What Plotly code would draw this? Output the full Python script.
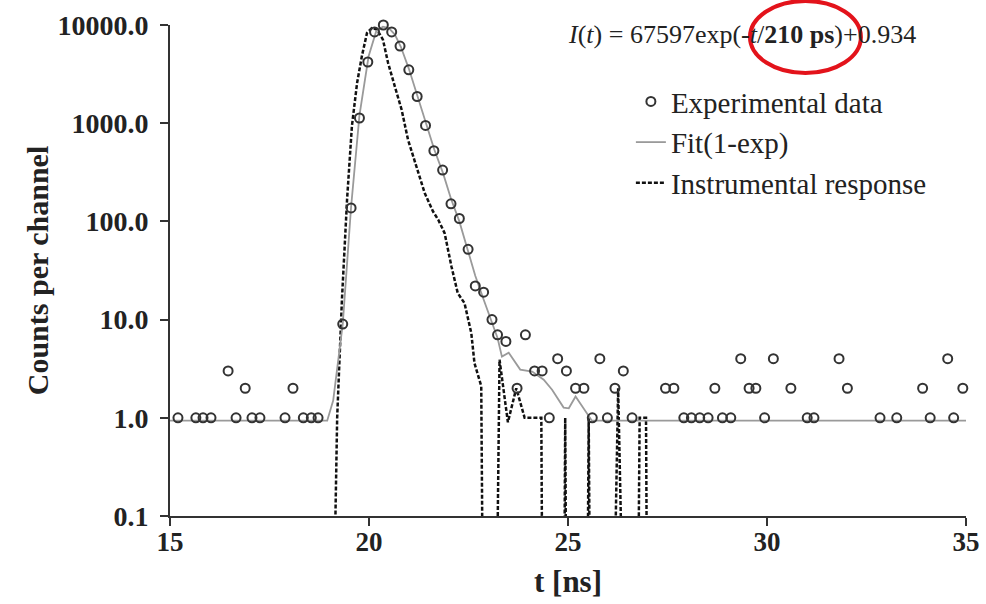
import plotly.graph_objects as go

# ---------------- data ----------------
exp_t = [15.20, 15.65, 15.83, 16.03, 16.46, 16.66, 16.89, 17.06, 17.26, 17.89,
         18.09, 18.35, 18.55, 18.72, 19.34, 19.55, 19.76, 19.97, 20.14, 20.36,
         20.57, 20.78, 21.00, 21.21, 21.42, 21.63, 21.85, 22.06, 22.27, 22.49,
         22.67, 22.88, 23.09, 23.23, 23.44, 23.72, 23.93, 24.16, 24.35, 24.53,
         24.74, 24.96, 25.19, 25.40, 25.61, 25.80, 25.99, 26.18, 26.39, 26.61,
         27.45, 27.66, 27.91, 28.10, 28.31, 28.52, 28.69, 28.88, 29.09, 29.34,
         29.55, 29.72, 29.94, 30.16, 30.60, 31.01, 31.18, 31.81, 32.02, 32.84,
         33.26, 33.91, 34.10, 34.54, 34.69, 34.92]
exp_counts = [1, 1, 1, 1, 3, 1, 2, 1, 1, 1,
              2, 1, 1, 1, 9, 137, 1130, 4200, 8500, 10000,
              8500, 6100, 3500, 1870, 950, 524, 333, 151, 107, 52,
              22, 19, 10, 7, 6, 2, 7, 3, 3, 1,
              4, 3, 2, 2, 1, 4, 1, 2, 3, 1,
              2, 2, 1, 1, 1, 1, 2, 1, 1, 4,
              2, 2, 1, 4, 2, 1, 1, 4, 2, 1,
              1, 2, 1, 4, 1, 2]

fit_t = [15.0, 18.95, 19.10, 19.34, 19.55, 19.76, 19.99, 20.18, 20.35, 20.50,
         20.65, 20.80, 21.00, 21.21, 21.43, 21.64, 21.86, 22.06, 22.27, 22.49,
         22.67, 22.88, 23.09, 23.23, 23.34, 23.51, 23.80, 24.10, 24.39, 24.60,
         24.89, 25.02, 25.19, 25.52, 25.60, 35.0]
fit_counts = [0.934, 0.934, 1.5, 9, 140, 1200, 4800, 8600, 9600, 9300,
              8000, 6000, 3600, 1900, 1000, 540, 310, 170, 100, 50,
              28, 16, 9.5, 6.5, 4.2, 4.6, 3.1, 2.96, 2.44, 1.93,
              1.27, 1.25, 1.65, 1.02, 0.934, 0.934]

irf_t = [19.07, 19.20, 19.32, 19.45, 19.57, 19.70, 19.82, 19.95, 20.07, 20.20,
         20.35, 20.48, 20.65, 20.82, 20.98, 21.19, 21.40, 21.61, 21.74, 21.90,
         22.07, 22.23, 22.40, 22.57, 22.65, 22.82, 22.88,
         23.18, 23.28, 23.49, 23.70, 23.91, 24.33, 24.37,
         24.89, 24.93, 24.97, 25.47, 25.52, 25.57,
         26.11, 26.26, 26.43, 26.74, 26.80, 26.96, 27.00, 35.0]
irf_counts = [0, 1, 16, 170, 930, 2560, 4800, 8300, 9300, 9000,
              7100, 4100, 2360, 1370, 680, 363, 194, 126, 104, 76,
              35, 18.6, 14.7, 7.3, 3.6, 2.1, 0,
              0, 3.9, 0.9, 2, 1, 1, 0,
              0, 1, 0, 0, 1, 0,
              0, 2, 0, 0, 1, 1, 0, 0]

y_tickvals = [0.1, 1, 10, 100, 1000, 10000]
x_tickvals = [15, 20, 25, 30, 35]

# zero counts cannot sit on a log axis: draw them below the visible range
irf_plot = [v if v > 0 else 1e-3 for v in irf_counts]

SERIF = "Liberation Serif, Times New Roman, serif"
TXT = "#222222"

fig = go.Figure()
fig.add_trace(go.Scatter(
    x=irf_t, y=irf_plot, mode="lines", name="Instrumental response",
    line=dict(color="#111111", width=2.5, dash="4px,2px"),
    legendrank=3,
))
fig.add_trace(go.Scatter(
    x=fit_t, y=fit_counts, mode="lines", name="Fit(1-exp)",
    line=dict(color="#9a9a9a", width=1.8),
    legendrank=2,
))
fig.add_trace(go.Scatter(
    x=exp_t, y=exp_counts, mode="markers", name="Experimental data",
    marker=dict(symbol="circle-open", size=9, color="#333333",
                line=dict(width=2, color="#333333")),
    cliponaxis=False, legendrank=1,
))

fig.update_layout(
    width=986, height=604,
    margin=dict(l=170, r=20, t=25, b=88),
    paper_bgcolor="white", plot_bgcolor="white",
    font=dict(family=SERIF, color=TXT),
    showlegend=True,
    legend=dict(
        x=0.579, y=0.896, xanchor="left", yanchor="top",
        bgcolor="rgba(0,0,0,0)",
        font=dict(family=SERIF, size=29, color=TXT),
        itemwidth=30, tracegroupgap=0,
    ),
    xaxis=dict(
        range=[15, 35], tickvals=x_tickvals, ticktext=[str(v) for v in x_tickvals],
        showgrid=False, zeroline=False, automargin=False,
        showline=True, linecolor="#333333", linewidth=2,
        ticks="outside", ticklen=8, tickwidth=2, tickcolor="#333333",
        ticklabelstandoff=-7,
        tickfont=dict(family=SERIF, size=27, color=TXT, weight="bold"),
        title=dict(text="t [ns]", standoff=14,
                   font=dict(family=SERIF, size=31, color=TXT, weight="bold")),
    ),
    yaxis=dict(
        type="log", range=[-1, 4], tickvals=y_tickvals,
        ticktext=[f"{v:.1f}" for v in y_tickvals],
        showgrid=False, zeroline=False, automargin=False,
        showline=True, linecolor="#333333", linewidth=2,
        ticks="outside", ticklen=8, tickwidth=2, tickcolor="#333333",
        ticklabelstandoff=6,
        tickfont=dict(family=SERIF, size=28, color=TXT, weight="bold"),
        title=dict(text="Counts per channel", standoff=0,
                   font=dict(family=SERIF, size=30, color=TXT, weight="bold")),
    ),
)

fig.add_annotation(
    xref="paper", yref="paper", x=0.497, y=0.98, xanchor="left", yanchor="middle",
    text="<i>I</i>(<i>t</i>) = 67597exp(-<i>t</i>/<b>210 ps</b>)+0.934",
    showarrow=False, font=dict(family=SERIF, size=26, color=TXT),
)
fig.add_shape(
    type="circle", xref="paper", yref="paper",
    x0=0.7286, x1=0.868, y0=0.902, y1=1.049,
    line=dict(color="#e3131b", width=4), fillcolor="rgba(0,0,0,0)",
)

fig.write_html(
    "out.html",
    config={"displayModeBar": False},
    post_script="document.body.style.margin='0';document.body.style.overflow='hidden';",
)
